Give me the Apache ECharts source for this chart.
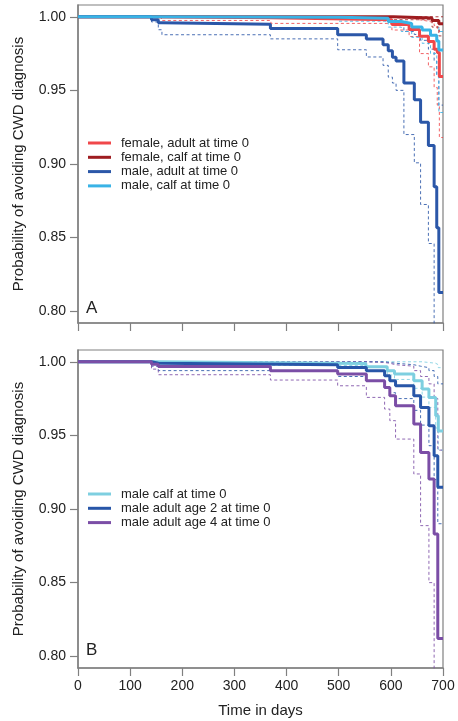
<!DOCTYPE html>
<html>
<head>
<meta charset="utf-8">
<script src="https://cdn.jsdelivr.net/npm/echarts@6/dist/echarts.min.js"></script>
<style>html,body{margin:0;padding:0;background:#fff}#c{width:458px;height:721px}</style>
</head>
<body>
<div id="c"></div>
<script>
// ---------- Panel A (top) ----------
const namesA = ['female, adult at time 0', 'female, calf at time 0', 'male, adult at time 0', 'male, calf at time 0'];

const fAdultT  = [0, 160, 370, 602, 635, 655, 672, 683, 689, 693];
const fAdultS  = [1, 0.9993, 0.998, 0.9947, 0.9913, 0.9867, 0.9832, 0.978, 0.9757, 0.9595];
const fAdultLo = [1, 0.9975, 0.9955, 0.991, 0.9866, 0.975, 0.966, 0.952, 0.94, 0.918];
const fAdultHi = [1, 1, 0.9995, 0.999, 0.998, 0.997, 0.996, 0.994, 0.992, 0.99];

const fCalfT  = [0, 605, 679, 692];
const fCalfS  = [1, 0.9992, 0.9975, 0.9953];
const fCalfLo = [1, 0.998, 0.993, 0.987];
const fCalfHi = [1, 1, 1, 1];

const mAdultT  = [0, 141, 154, 161, 369, 498, 553, 585, 595, 603, 610, 625, 645, 657, 672, 683, 688, 692];
const mAdultS  = [1, 0.998, 0.996, 0.995, 0.992, 0.9878, 0.9849, 0.981, 0.977, 0.9725, 0.970, 0.955, 0.9437, 0.9283, 0.9125, 0.8845, 0.8567, 0.8127];
const mAdultLo = [1, 0.9965, 0.9912, 0.9878, 0.985, 0.9776, 0.9727, 0.967, 0.959, 0.955, 0.95, 0.92, 0.9008, 0.8725, 0.846, 0.70, 0.65, 0.60];
const mAdultHi = [1, 1, 1, 1, 1, 0.9995, 0.999, 0.998, 0.997, 0.996, 0.995, 0.99, 0.988, 0.984, 0.978, 0.97, 0.96, 0.94];

const mCalfT  = [0, 150, 500, 595, 620, 640, 660, 676, 688, 692];
const mCalfS  = [1, 0.9997, 0.999, 0.9968, 0.9955, 0.993, 0.991, 0.9875, 0.9835, 0.9775];
const mCalfLo = [1, 0.999, 0.997, 0.993, 0.99, 0.986, 0.982, 0.975, 0.96, 0.935];
const mCalfHi = [1, 1, 1, 1, 1, 0.9995, 0.999, 0.998, 0.996, 0.99];

// ---------- Panel B (bottom) ----------
const namesB = ['male calf at time 0', 'male adult age 2 at time 0', 'male adult age 4 at time 0'];

const calfT  = [0, 150, 552, 593, 607, 644, 660, 673, 686, 691];
const calfS  = [1, 0.9988, 0.9966, 0.9939, 0.9917, 0.9871, 0.9815, 0.9758, 0.9634, 0.953];
const calfLo = [1, 0.9975, 0.994, 0.991, 0.988, 0.982, 0.976, 0.969, 0.955, 0.94];
const calfHi = [1, 1, 1, 1, 1, 1, 0.9995, 0.999, 0.998, 0.996];

const age2T  = [0, 141, 154, 498, 553, 588, 598, 609, 644, 657, 673, 683, 690];
const age2S  = [1, 0.999, 0.998, 0.9961, 0.9939, 0.9905, 0.9871, 0.9837, 0.9769, 0.969, 0.9566, 0.9362, 0.9147];
const age2Lo = [1, 0.997, 0.994, 0.99, 0.987, 0.983, 0.979, 0.975, 0.967, 0.957, 0.943, 0.92, 0.89];
const age2Hi = [1, 1, 1, 1, 1, 0.9995, 0.999, 0.998, 0.997, 0.996, 0.994, 0.99, 0.985];

const age4T  = [0, 141, 154, 369, 498, 553, 588, 598, 609, 644, 657, 673, 683, 690];
const age4S  = [1, 0.9984, 0.9968, 0.9939, 0.9917, 0.9871, 0.9826, 0.9769, 0.9701, 0.9577, 0.9384, 0.9204, 0.883, 0.812];
const age4Lo = [1, 0.995, 0.9912, 0.9876, 0.9837, 0.9758, 0.9679, 0.96, 0.9475, 0.9238, 0.8887, 0.85, 0.70, 0.60];
const age4Hi = [1, 1, 1, 1, 1, 0.9995, 0.999, 0.998, 0.997, 0.994, 0.99, 0.985, 0.975, 0.94];

// ---------- axes ----------
const xMax = 700;
const xTickStep = 100;
const yTicks = [0.80, 0.85, 0.90, 0.95, 1.00];

const colA = ['#F0474A', '#9E1C20', '#2B57A8', '#39B3E6'];
const colB = ['#7ECFE0', '#2856A8', '#7B4EA6'];

function steps(T, V) {
  const d = T.map((t, i) => [t, V[i]]);
  d.push([xMax, V[V.length - 1]]);
  return d;
}
const dashedSeries = [];
const solidSeries = [];
function addGroup(name, color, idx, T, S, Lo, Hi) {
  [Lo, Hi].forEach((arr, k) => {
    dashedSeries.push({
      name: name + (k ? ' upper' : ' lower'), type: 'line', step: 'end',
      xAxisIndex: idx, yAxisIndex: idx, symbol: 'none', color: color,
      lineStyle: { width: 1, type: [3, 2.5], color: color, opacity: 0.85 },
      data: steps(T, arr), z: 2, silent: true
    });
  });
  solidSeries.push({
    name: name, type: 'line', step: 'end',
    xAxisIndex: idx, yAxisIndex: idx, symbol: 'none', color: color,
    lineStyle: { width: 3, color: color },
    data: steps(T, S), z: 3
  });
}
addGroup(namesA[0], colA[0], 0, fAdultT, fAdultS, fAdultLo, fAdultHi);
addGroup(namesA[1], colA[1], 0, fCalfT, fCalfS, fCalfLo, fCalfHi);
addGroup(namesA[2], colA[2], 0, mAdultT, mAdultS, mAdultLo, mAdultHi);
addGroup(namesA[3], colA[3], 0, mCalfT, mCalfS, mCalfLo, mCalfHi);
addGroup(namesB[0], colB[0], 1, calfT, calfS, calfLo, calfHi);
addGroup(namesB[1], colB[1], 1, age2T, age2S, age2Lo, age2Hi);
addGroup(namesB[2], colB[2], 1, age4T, age4S, age4Lo, age4Hi);

const axisGray = '#808080';
const textCol = '#222';
const fontFam = 'Liberation Sans, Arial, sans-serif';

function xAxisCfg(idx, showLabels) {
  return {
    type: 'value', gridIndex: idx, min: 0, max: xMax, interval: xTickStep,
    axisLine: { show: true, lineStyle: { color: axisGray, width: 1.5 } },
    axisTick: { show: true, inside: false, length: 8, lineStyle: { color: axisGray, width: 1.2 } },
    axisLabel: { show: showLabels, fontSize: 14, color: textCol, margin: 11, fontFamily: fontFam },
    splitLine: { show: false },
    name: showLabels ? 'Time in days' : '',
    nameLocation: 'middle', nameGap: 35,
    nameTextStyle: { fontSize: 15, color: textCol, fontFamily: fontFam }
  };
}
function yAxisCfg(idx) {
  return {
    type: 'value', gridIndex: idx, min: 0.792, max: 1.008,
    axisLine: { show: true, lineStyle: { color: axisGray, width: 1.5 } },
    axisTick: { show: true, inside: false, length: 8, customValues: yTicks, lineStyle: { color: axisGray, width: 1.2 } },
    axisLabel: { show: true, customValues: yTicks, fontSize: 14, color: textCol, margin: 12, fontFamily: fontFam,
      formatter: v => v.toFixed(2) },
    splitLine: { show: false },
    name: 'Probability of avoiding CWD diagnosis',
    nameLocation: 'middle', nameGap: 52, nameRotate: 90,
    nameTextStyle: { fontSize: 15, color: textCol, fontFamily: fontFam }
  };
}

const legendBase = {
  orient: 'vertical', itemWidth: 23, itemHeight: 3, itemGap: 0.3, icon: 'rect',
  textStyle: { fontSize: 13, lineHeight: 14, color: textCol, fontFamily: fontFam, padding: [0, 0, 0, 5] },
  selectedMode: false
};

const chart = echarts.init(document.getElementById('c'), null, { renderer: 'canvas' });
chart.setOption({
  animation: false,
  backgroundColor: '#fff',
  grid: [
    { left: 78, top: 5, width: 365, height: 318, show: true, borderColor: axisGray, borderWidth: 1.2, backgroundColor: 'transparent' },
    { left: 78, top: 350, width: 365, height: 318, show: true, borderColor: axisGray, borderWidth: 1.2, backgroundColor: 'transparent' }
  ],
  xAxis: [xAxisCfg(0, false), xAxisCfg(1, true)],
  yAxis: [yAxisCfg(0), yAxisCfg(1)],
  legend: [
    Object.assign({}, legendBase, { left: 83, top: 131, data: namesA }),
    Object.assign({}, legendBase, { left: 83, top: 482, data: namesB })
  ],
  graphic: [
    { type: 'text', left: 86, top: 300, style: { text: 'A', font: '17px ' + fontFam, fill: textCol } },
    { type: 'text', left: 86, top: 642, style: { text: 'B', font: '17px ' + fontFam, fill: textCol } }
  ],
  series: dashedSeries.concat(solidSeries)
});
</script>
</body>
</html>
